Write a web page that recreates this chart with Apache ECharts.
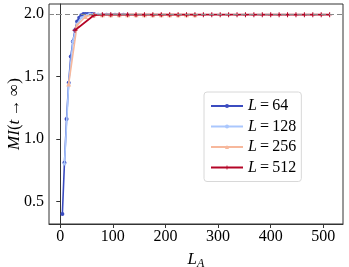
<!DOCTYPE html>
<html>
<head>
<meta charset="utf-8">
<script src="https://cdn.jsdelivr.net/npm/echarts@6/dist/echarts.min.js"></script>
<style>html,body{margin:0;padding:0;background:#fff}#c{width:349px;height:267px}</style>
</head>
<body>
<div id="c"></div>
<script>
// Data
const la64  = [4, 8, 12, 16, 20, 24, 28, 32, 36, 40, 44, 48, 52, 56, 60, 64];
const mi64  = [0.40, 0.81, 1.16, 1.45, 1.66, 1.78, 1.87, 1.94, 1.97, 1.99, 2.00, 2.00, 2.00, 2.00, 2.00, 2.00];
const la128 = [8, 16, 24, 32, 40, 48, 56, 64, 72, 80, 88, 96, 104, 112, 120, 128];
const mi128 = [0.80, 1.44, 1.78, 1.92, 1.97, 1.99, 2.00, 2.00, 2.00, 2.00, 2.00, 2.00, 2.00, 2.00, 2.00, 2.00];
const la256 = [16, 32, 48, 64, 80, 96, 112, 128, 144, 160, 176, 192, 208, 224, 240, 256];
const mi256 = [1.44, 1.91, 1.98, 1.995, 1.995, 1.995, 1.995, 1.995, 1.995, 1.995, 1.995, 1.995, 1.995, 1.995, 1.995, 1.995];
const la512 = [28, 64, 80, 96, 112, 128, 144, 160, 176, 192, 208, 224, 240, 256, 272, 288, 304, 320, 336, 352, 368, 384, 400, 416, 432, 448, 464, 480, 496, 512];
const mi512 = [1.87, 1.99, 1.995, 1.995, 1.995, 1.995, 1.995, 1.995, 1.995, 1.995, 1.995, 1.995, 1.995, 1.995, 1.995, 1.995, 1.995, 1.995, 1.995, 1.995, 1.995, 1.995, 1.995, 1.995, 1.995, 1.995, 1.995, 1.995, 1.995, 1.995];
const seriesNames = ['L=64', 'L=128', 'L=256', 'L=512'];
const xTicks = [0, 100, 200, 300, 400, 500];
const yTicks = [0.5, 1.0, 1.5, 2.0];
const refLine = 2.0;

const colors = ['#3b4cc0', '#aac7fd', '#f7b89c', '#b40426'];
const FONT = 'Liberation Serif';
const zip = (a, b) => a.map((v, i) => [v, b[i]]);
const plus = 'path://M4,0h2v4h4v2h-4v4h-2v-4h-4v-2h4z';

const chart = echarts.init(document.getElementById('c'), null, {renderer: 'canvas'});
const mk = (name, la, mi, color, symbol, size, extra) => Object.assign({
  name: name, type: 'line', data: zip(la, mi),
  symbol: symbol, symbolSize: size, showSymbol: true,
  lineStyle: {color: color, width: 1.6},
  itemStyle: {color: color},
  emphasis: {disabled: true}, animation: false
}, extra || {});

chart.setOption({
  animation: false,
  grid: {left: 49, right: 6, top: 4, bottom: 43, show: true, borderColor: '#333', borderWidth: 1,
    containLabel: false, outerBoundsMode: 'none'},
  xAxis: {
    type: 'value', min: -21.4, max: 537.4,
    name: '{i|L}{s|A}', nameLocation: 'middle', nameGap: 25, nameMoveOverlap: false,
    nameTextStyle: {rich: {
      i: {fontFamily: FONT, fontStyle: 'italic', fontSize: 17, color: '#000'},
      s: {fontFamily: FONT, fontStyle: 'italic', fontSize: 12, color: '#000', padding: [9, 0, 0, 0]}
    }},
    axisLine: {lineStyle: {color: '#333', width: 1}},
    axisTick: {show: true, length: 4, customValues: xTicks, lineStyle: {color: '#333'}},
    axisLabel: {customValues: xTicks, fontFamily: FONT, fontSize: 16, color: '#000', margin: 5},
    splitLine: {show: false}
  },
  yAxis: {
    type: 'value', min: 0.32, max: 2.08,
    name: '{i|MI}{n|(}{i|t}{n|\u2009→\u2009∞)}', nameLocation: 'middle', nameGap: 26, nameRotate: 90,
    nameMoveOverlap: false,
    nameTextStyle: {rich: {
      i: {fontFamily: FONT, fontStyle: 'italic', fontSize: 17, color: '#000'},
      n: {fontFamily: FONT, fontSize: 17, color: '#000'}
    }},
    axisLine: {show: true, lineStyle: {color: '#333', width: 1}},
    axisTick: {show: true, length: 4, customValues: yTicks, lineStyle: {color: '#333'}},
    axisLabel: {customValues: yTicks, fontFamily: FONT, fontSize: 16, color: '#000', margin: 5,
      formatter: v => v.toFixed(1)},
    splitLine: {show: false}
  },
  legend: {
    left: 204, top: 92, orient: 'vertical',
    data: seriesNames,
    itemWidth: 32, itemHeight: 5, itemGap: 4.5,
    padding: [6, 5, 6, 6],
    borderColor: '#d8d8d8', borderWidth: 1, borderRadius: 3, backgroundColor: '#fff',
    formatter: n => '{i|L}{n|\u2009=\u2009' + n.slice(2) + '}',
    textStyle: {rich: {
      i: {fontFamily: FONT, fontStyle: 'italic', fontSize: 16, color: '#000', lineHeight: 16},
      n: {fontFamily: FONT, fontSize: 16, color: '#000', lineHeight: 16}
    }}
  },
  series: [
    mk(seriesNames[0], la64, mi64, colors[0], 'circle', 4, {
      markLine: {silent: true, symbol: 'none', label: {show: false},
        lineStyle: {color: '#888', type: [5, 3], width: 1.2},
        data: [{yAxis: refLine}]}, z: 1}),
    mk(seriesNames[1], la128, mi128, colors[1], 'circle', 3, {z: 2}),
    mk(seriesNames[2], la256, mi256, colors[2], 'triangle', 5, {z: 3}),
    mk(seriesNames[3], la512, mi512, colors[3], plus, 5, {z: 4})
  ]
});
</script>
</body>
</html>
